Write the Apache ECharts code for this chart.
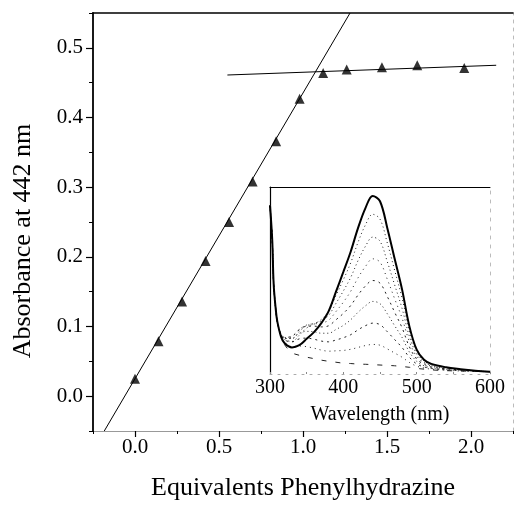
<!DOCTYPE html>
<html>
<head>
<meta charset="utf-8">
<script src="https://cdn.jsdelivr.net/npm/echarts@6/dist/echarts.min.js"></script>
<style>
html,body{margin:0;padding:0;background:#fff;}
#c{width:516px;height:506px;}
</style>
</head>
<body>
<div id="c"></div>
<script>
// ---------- main titration data ----------
var equivalents = [0, 0.14, 0.28, 0.42, 0.56, 0.70, 0.84, 0.98, 1.12, 1.26, 1.47, 1.68, 1.96];
var absorbance442 = [0.025, 0.079, 0.136, 0.194, 0.250, 0.308, 0.366, 0.427, 0.464, 0.469, 0.472, 0.475, 0.471];
var fitLineRise = [[-0.183, -0.05], [1.28, 0.55]];
var fitLinePlateau = [[0.55, 0.461], [2.15, 0.475]];
var yTickValues = [0.0, 0.1, 0.2, 0.3, 0.4, 0.5];
var xTickValues = [0.0, 0.5, 1.0, 1.5, 2.0];

// ---------- inset spectra (absorbance vs wavelength) ----------
var wavelengths = [300,303,305,308,310,315,320,330,340,350,360,370,380,390,400,410,420,430,440,450,460,470,480,490,500,510,520,540,560,580,600];
var specFinal = [0.45,0.36,0.24,0.17,0.14,0.10,0.082,0.071,0.077,0.094,0.112,0.136,0.168,0.22,0.273,0.327,0.39,0.443,0.476,0.462,0.39,0.308,0.227,0.128,0.065,0.038,0.027,0.018,0.013,0.009,0.006];
var spec427 = [0.45,0.36,0.24,0.17,0.14,0.103,0.092,0.087,0.104,0.123,0.133,0.146,0.168,0.21,0.252,0.297,0.352,0.398,0.427,0.414,0.35,0.277,0.204,0.116,0.06,0.035,0.025,0.017,0.012,0.009,0.006];
var spec366 = [0.45,0.36,0.24,0.17,0.14,0.105,0.095,0.095,0.114,0.129,0.135,0.142,0.157,0.189,0.222,0.258,0.303,0.341,0.366,0.355,0.30,0.238,0.176,0.101,0.053,0.032,0.023,0.016,0.012,0.0085,0.006];
var spec308 = [0.45,0.36,0.24,0.17,0.14,0.106,0.097,0.10,0.119,0.131,0.134,0.136,0.144,0.167,0.192,0.221,0.257,0.287,0.308,0.299,0.253,0.201,0.15,0.087,0.046,0.029,0.021,0.015,0.011,0.008,0.006];
var spec250 = [0.45,0.36,0.24,0.17,0.14,0.106,0.098,0.101,0.119,0.128,0.128,0.126,0.129,0.145,0.162,0.183,0.211,0.235,0.25,0.243,0.207,0.165,0.124,0.073,0.04,0.026,0.019,0.014,0.011,0.008,0.006];
var spec194 = [0.45,0.36,0.24,0.17,0.14,0.106,0.095,0.095,0.109,0.114,0.113,0.109,0.109,0.119,0.13,0.145,0.165,0.182,0.194,0.188,0.161,0.129,0.098,0.059,0.034,0.022,0.017,0.012,0.010,0.008,0.006];
var spec136 = [0.45,0.36,0.24,0.17,0.14,0.105,0.091,0.086,0.094,0.096,0.093,0.088,0.086,0.091,0.097,0.105,0.118,0.129,0.136,0.132,0.113,0.092,0.071,0.045,0.027,0.019,0.015,0.011,0.009,0.0075,0.006];
var spec079 = [0.45,0.36,0.24,0.17,0.14,0.103,0.085,0.073,0.075,0.073,0.069,0.064,0.061,0.062,0.063,0.066,0.071,0.076,0.079,0.077,0.067,0.056,0.045,0.031,0.021,0.016,0.013,0.010,0.008,0.007,0.006];
var spec025 = [0.45,0.36,0.24,0.17,0.14,0.101,0.078,0.057,0.05,0.045,0.041,0.037,0.034,0.0315,0.029,0.028,0.0265,0.026,0.025,0.024,0.023,0.022,0.02,0.018,0.015,0.013,0.011,0.009,0.008,0.007,0.006];
var insetTickValues = [300, 400, 500, 600];

function pairs(xs, ys) { return xs.map(function (x, i) { return [x, ys[i]]; }); }

var FONT = 'Liberation Serif';
var chart = echarts.init(document.getElementById('c'), null, {renderer: 'canvas'});

var dottedSpecs = [
  {d: spec427, t: [1, 3]},
  {d: spec366, t: [1, 3]},
  {d: spec308, t: [1, 4]},
  {d: spec250, t: [2, 4]},
  {d: spec194, t: [1, 3]},
  {d: spec136, t: [2, 4]},
  {d: spec079, t: [1, 4]},
  {d: spec025, t: [5, 9]}
];

var series = [
  {type: 'line', xAxisIndex: 0, yAxisIndex: 0, data: fitLineRise, symbol: 'none',
   lineStyle: {color: '#000', width: 1}, silent: true},
  {type: 'line', xAxisIndex: 0, yAxisIndex: 0, data: fitLinePlateau, symbol: 'none',
   lineStyle: {color: '#000', width: 1}, silent: true},
  {type: 'scatter', xAxisIndex: 0, yAxisIndex: 0, data: pairs(equivalents, absorbance442),
   symbol: 'triangle', symbolSize: 10, itemStyle: {color: '#000'}}
];
dottedSpecs.forEach(function (s) {
  series.push({type: 'line', xAxisIndex: 3, yAxisIndex: 3, data: pairs(wavelengths, s.d),
    symbol: 'none', smooth: 0.35, lineStyle: {color: '#222', width: 1, type: s.t}, silent: true});
});
series.push({type: 'line', xAxisIndex: 3, yAxisIndex: 3, data: pairs(wavelengths, specFinal),
  symbol: 'none', smooth: 0.35, lineStyle: {color: '#000', width: 2}, silent: true});

var option = {
  backgroundColor: '#fff',
  animation: false,
  grid: [
    {left: 93, top: 13, right: 2, bottom: 74, show: false},
    {left: 270, top: 187, width: 220, height: 187, show: false}
  ],
  xAxis: [
    {gridIndex: 0, type: 'value', position: 'bottom', min: -0.25, max: 2.25, interval: 0.25,
     axisLine: {show: true, onZero: false, lineStyle: {color: '#999', width: 1}},
     axisTick: {show: true, inside: false, length: 3, lineStyle: {color: '#000', width: 1}},
     axisLabel: {show: true, margin: 6, color: '#000', fontFamily: FONT, fontSize: 21,
       formatter: function (v) { return xTickValues.some(function (t) { return Math.abs(t - v) < 1e-6; }) ? v.toFixed(1) : ''; }},
     splitLine: {show: false},
     name: 'Equivalents Phenylhydrazine', nameLocation: 'middle', nameGap: 44,
     nameTextStyle: {color: '#000', fontFamily: FONT, fontSize: 26}},
    {gridIndex: 0, type: 'value', position: 'bottom', min: -0.25, max: 2.25,
     axisLine: {show: false, onZero: false},
     axisTick: {show: true, inside: false, length: 6, customValues: xTickValues, lineStyle: {color: '#000', width: 1.2}},
     axisLabel: {show: false}, splitLine: {show: false}},
    {gridIndex: 0, type: 'value', position: 'top', min: -0.25, max: 2.25,
     axisLine: {show: true, onZero: false, lineStyle: {color: '#000', width: 1.5}},
     axisTick: {show: false}, axisLabel: {show: false}, splitLine: {show: false}},
    {gridIndex: 1, type: 'value', position: 'bottom', min: 300, max: 600, interval: 50,
     axisLine: {show: true, onZero: false, lineStyle: {color: '#aaa', width: 1, type: [2, 6]}},
     axisTick: {show: true, inside: true, length: 2, lineStyle: {color: '#888', width: 1}},
     axisLabel: {show: true, margin: 4, color: '#000', fontFamily: FONT, fontSize: 20,
       formatter: function (v) { return insetTickValues.indexOf(Math.round(v)) >= 0 ? String(Math.round(v)) : ''; }},
     splitLine: {show: false},
     name: 'Wavelength (nm)', nameLocation: 'middle', nameGap: 31,
     nameTextStyle: {color: '#000', fontFamily: FONT, fontSize: 20}},
    {gridIndex: 1, type: 'value', position: 'top', min: 300, max: 600,
     axisLine: {show: true, onZero: false, lineStyle: {color: '#000', width: 1}},
     axisTick: {show: false}, axisLabel: {show: false}, splitLine: {show: false}}
  ],
  yAxis: [
    {gridIndex: 0, type: 'value', position: 'left', min: -0.05, max: 0.55, interval: 0.05,
     axisLine: {show: true, onZero: false, lineStyle: {color: '#000', width: 1.8}},
     axisTick: {show: true, inside: false, length: 4, lineStyle: {color: '#000', width: 1}},
     axisLabel: {show: true, margin: 10, color: '#000', fontFamily: FONT, fontSize: 21,
       formatter: function (v) { return yTickValues.some(function (t) { return Math.abs(t - v) < 1e-6; }) ? Math.abs(v).toFixed(1) : ''; }},
     splitLine: {show: false}},
    {gridIndex: 0, type: 'value', position: 'left', min: -0.05, max: 0.55,
     axisLine: {show: false, onZero: false},
     axisTick: {show: true, inside: false, length: 7, customValues: yTickValues, lineStyle: {color: '#000', width: 1.2}},
     axisLabel: {show: false}, splitLine: {show: false}},
    {gridIndex: 0, type: 'value', position: 'right', min: -0.05, max: 0.55,
     axisLine: {show: true, onZero: false, lineStyle: {color: '#bbb', width: 1, type: [3, 5]}},
     axisTick: {show: false}, axisLabel: {show: false}, splitLine: {show: false}},
    {gridIndex: 1, type: 'value', position: 'left', min: 0, max: 0.5,
     axisLine: {show: true, onZero: false, lineStyle: {color: '#000', width: 1.2}},
     axisTick: {show: false}, axisLabel: {show: false}, splitLine: {show: false}},
    {gridIndex: 1, type: 'value', position: 'right', min: 0, max: 0.5,
     axisLine: {show: true, onZero: false, lineStyle: {color: '#bbb', width: 1, type: [3, 6]}},
     axisTick: {show: false}, axisLabel: {show: false}, splitLine: {show: false}}
  ],
  graphic: [
    {type: 'text', x: 23, y: 241, rotation: Math.PI / 2,
     style: {text: 'Absorbance at 442 nm', fill: '#000', font: '26px "Liberation Serif"',
       textAlign: 'center', textVerticalAlign: 'middle'}}
  ],
  series: series
};
chart.setOption(option);
</script>
</body>
</html>
